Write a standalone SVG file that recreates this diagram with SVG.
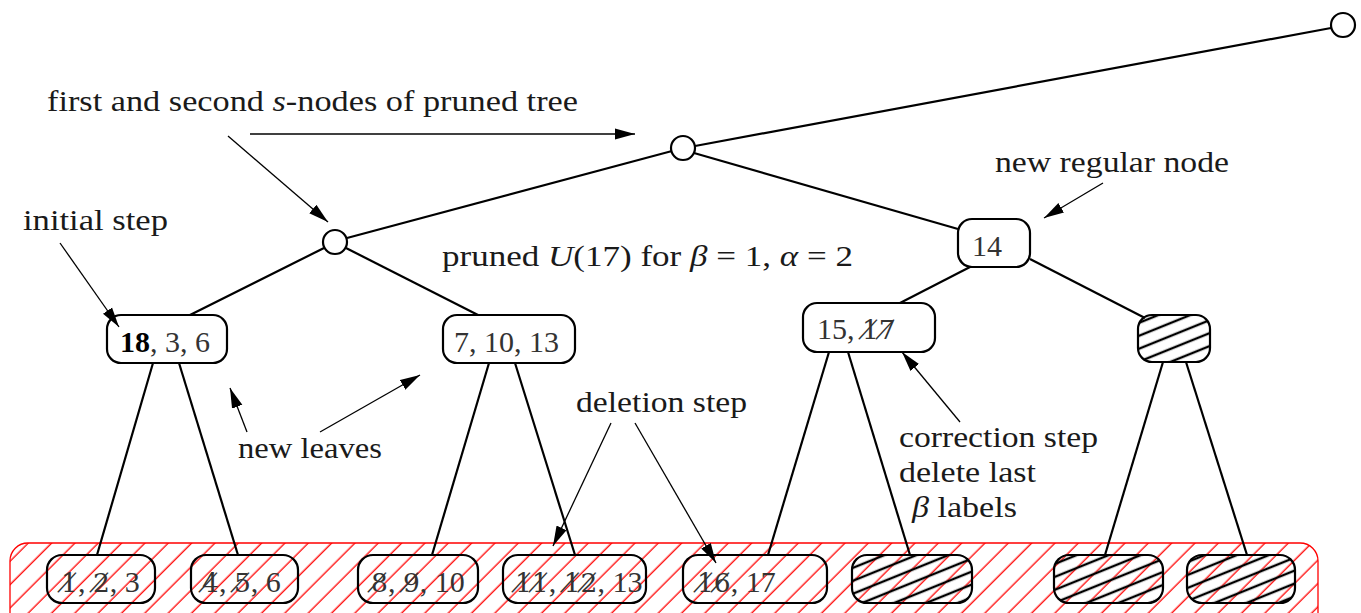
<svg xmlns="http://www.w3.org/2000/svg" width="1361" height="613" viewBox="0 0 1361 613">
<style>
.t{font-family:"Liberation Serif","DejaVu Serif",serif;font-size:29px;fill:#1a1a1a}
.n{font-family:"Liberation Serif","DejaVu Serif",serif;font-size:30px;fill:#333}
.x{font-family:"DejaVu Serif",serif;font-size:26.5px}
.i{font-style:italic}
.b{font-weight:bold;fill:#000}
.box{fill:none;stroke:#000;stroke-width:2.2}
.hbox{fill:url(#bh);stroke:#000;stroke-width:2.2}
.circ{fill:#fff;stroke:#000;stroke-width:2.2}
.e{stroke:#000;stroke-width:2.2;fill:none}
.a{stroke:#000;stroke-width:1.3;fill:none;marker-end:url(#ah)}
</style>
<defs>
<pattern id="rh" patternUnits="userSpaceOnUse" width="16.5" height="16.5" patternTransform="rotate(45)">
<line x1="8" y1="-1" x2="8" y2="18" stroke="#f00" stroke-width="1.3"/>
</pattern>
<pattern id="bh" patternUnits="userSpaceOnUse" width="12" height="12" patternTransform="rotate(68)">
<line x1="6" y1="-1" x2="6" y2="13" stroke="#000" stroke-width="2.4"/>
</pattern>
<marker id="ah" markerUnits="userSpaceOnUse" markerWidth="20" markerHeight="12" refX="20" refY="6" orient="auto" viewBox="0 0 20 12">
<path d="M0,0.5 L20,6 L0,11.5 z" fill="#000"/>
</marker>
</defs>

<g id="deleted-region">
<rect x="10" y="543" width="1308" height="90" rx="18" fill="url(#rh)" stroke="#f00" stroke-width="1.3"/>
</g>

<g id="connectors">
<line class="e" x1="1331" y1="28" x2="695" y2="146"/>
<line class="e" x1="672" y1="151" x2="347" y2="238"/>
<line class="e" x1="694" y1="153" x2="958" y2="229"/>
<line class="e" x1="324" y1="248" x2="190" y2="315"/>
<line class="e" x1="346" y1="248" x2="478" y2="315"/>
<line class="e" x1="970" y1="267" x2="900" y2="303"/>
<line class="e" x1="1030" y1="259" x2="1145" y2="318"/>
<line class="e" x1="153" y1="363" x2="97" y2="555"/>
<line class="e" x1="179" y1="363" x2="238" y2="555"/>
<line class="e" x1="489" y1="363" x2="432" y2="555"/>
<line class="e" x1="515" y1="363" x2="575" y2="555"/>
<line class="e" x1="829" y1="352" x2="768" y2="555"/>
<line class="e" x1="848" y1="352" x2="910" y2="555"/>
<line class="e" x1="1163" y1="362" x2="1105" y2="555"/>
<line class="e" x1="1186" y1="362" x2="1247" y2="555"/>
<line class="a" x1="250" y1="134" x2="635" y2="134"/>
<line class="a" x1="228" y1="136" x2="328" y2="222"/>
<line class="a" x1="60" y1="243" x2="119" y2="327"/>
<line class="a" x1="1103" y1="183" x2="1044" y2="218"/>
<line class="a" x1="247" y1="432" x2="230" y2="388"/>
<line class="a" x1="320" y1="432" x2="420" y2="375"/>
<line class="a" x1="611" y1="423" x2="553" y2="546"/>
<line class="a" x1="635" y1="423" x2="716" y2="563"/>
<line class="a" x1="960" y1="422" x2="902" y2="352"/>
</g>

<g id="s-node-top"><circle class="circ" cx="1343" cy="25" r="12"/></g>
<g id="s-node-2"><circle class="circ" cx="683" cy="148" r="12"/></g>
<g id="s-node-1"><circle class="circ" cx="335" cy="242" r="12"/></g>

<g id="node-14"><rect class="box" x="958" y="219" width="72" height="48" rx="14"/>
<text class="n" x="972" y="256">14</text></g>
<g id="node-15-17"><rect class="box" x="803" y="303" width="132" height="49" rx="14"/>
<text class="n" x="817" y="339">15, <tspan class="x">1̸7̸</tspan></text></g>
<g id="node-hatched-right"><rect class="hbox" x="1138" y="315" width="72" height="47" rx="14"/></g>
<g id="node-18-3-6"><rect class="box" x="107" y="315" width="120" height="48" rx="14"/>
<text class="n" x="120" y="352"><tspan class="b">18</tspan>, 3, 6</text></g>
<g id="node-7-10-13"><rect class="box" x="443" y="315" width="132" height="48" rx="14"/>
<text class="n" x="454" y="352">7, 10, 13</text></g>

<g id="leaf-1"><rect class="box" x="47" y="555" width="108" height="48" rx="15"/>
<text class="n" x="61" y="592"><tspan class="x">1̸</tspan>, <tspan class="x">2̸</tspan>, 3</text></g>
<g id="leaf-2"><rect class="box" x="191" y="555" width="107" height="48" rx="15"/>
<text class="n" x="202" y="592"><tspan class="x">4̸</tspan>, <tspan class="x">5̸</tspan>, 6</text></g>
<g id="leaf-3"><rect class="box" x="358" y="555" width="120" height="48" rx="15"/>
<text class="n" x="371" y="592"><tspan class="x">8̸</tspan>, <tspan class="x">9̸</tspan>, 10</text></g>
<g id="leaf-4"><rect class="box" x="503" y="555" width="143" height="48" rx="15"/>
<text class="n" x="515" y="592"><tspan class="x">1̸1̸</tspan>, <tspan class="x">1̸2̸</tspan>, 13</text></g>
<g id="leaf-5"><rect class="box" x="683" y="555" width="144" height="48" rx="15"/>
<text class="n" x="697" y="592"><tspan class="x">1̸6̸</tspan>, 17</text></g>
<g id="leaf-6"><rect class="hbox" x="852" y="555" width="120" height="48" rx="15"/></g>
<g id="leaf-7"><rect class="hbox" x="1054" y="555" width="109" height="48" rx="15"/></g>
<g id="leaf-8"><rect class="hbox" x="1187" y="555" width="108" height="48" rx="15"/></g>

<g id="labels">
<text class="t" x="47" y="111" textLength="531" lengthAdjust="spacingAndGlyphs">first and second <tspan class="i">s</tspan>-nodes of pruned tree</text>
<text class="t" x="23" y="230" textLength="145" lengthAdjust="spacingAndGlyphs">initial step</text>
<text class="t" x="995" y="172" textLength="234" lengthAdjust="spacingAndGlyphs">new regular node</text>
<text class="t" x="442" y="266" textLength="411" lengthAdjust="spacingAndGlyphs">pruned <tspan class="i">U</tspan>(17) for <tspan class="i">β</tspan> = 1, <tspan class="i">α</tspan> = 2</text>
<text class="t" x="238" y="458" textLength="144" lengthAdjust="spacingAndGlyphs">new leaves</text>
<text class="t" x="576" y="412" textLength="171" lengthAdjust="spacingAndGlyphs">deletion step</text>
<text class="t" x="899" y="447" textLength="199" lengthAdjust="spacingAndGlyphs">correction step</text>
<text class="t" x="899" y="482" textLength="137" lengthAdjust="spacingAndGlyphs">delete last</text>
<text class="t" x="912" y="517" textLength="105" lengthAdjust="spacingAndGlyphs"><tspan class="i">β</tspan> labels</text>
</g>
</svg>
